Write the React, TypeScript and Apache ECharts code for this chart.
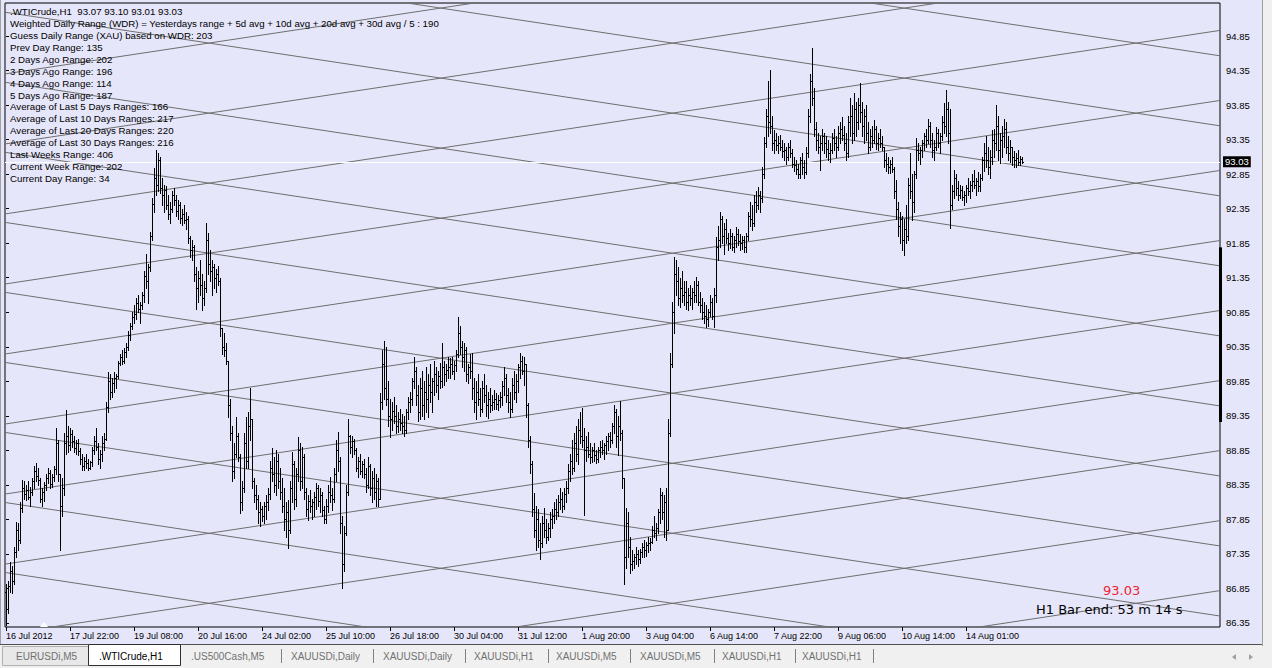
import React, { useEffect, useRef } from "react";
import * as echarts from "echarts";

// ---- hourly bars, [high, low, close]; open = previous close ----
const firstOpen = 86.8;
const week1: number[][] = [
  [86.92,86.32,86.55],[86.95,86.50,86.88],[87.23,86.80,87.10],[87.18,86.78,86.95],[87.45,86.92,87.38],[87.81,87.30,87.70],[87.80,87.40,87.55],[88.10,87.50,88.02],[88.42,87.95,88.30],[88.40,88.15,88.22],
  [88.35,88.13,88.28],[88.40,88.15,88.18],[88.32,88.05,88.25],[88.45,88.20,88.40],[88.62,88.30,88.55],[88.66,88.40,88.48],[88.60,88.35,88.42],[88.45,88.10,88.15],[88.30,88.05,88.25],[88.39,88.12,88.35],
  [88.50,88.28,88.45],[88.59,88.38,88.52],[88.56,88.30,88.36],[88.50,88.32,88.47],[88.62,88.40,88.58],[89.17,88.50,88.95],[89.00,88.40,88.50],[88.39,87.40,88.05],[88.45,87.90,88.30],[89.10,88.20,88.95],
  [89.43,88.80,89.05],[89.20,88.82,88.92],[89.17,88.85,89.08],[89.15,88.90,88.98],[89.05,88.82,88.88],[89.00,88.80,88.95],[89.02,88.78,88.84],[88.88,88.65,88.72],[88.80,88.56,88.62],[88.75,88.56,88.70],
  [88.80,88.60,88.66],[88.72,88.56,88.60],[88.70,88.58,88.68],[88.90,88.62,88.85],[89.05,88.80,88.98],[89.17,88.85,88.90],[88.95,88.65,88.72],[88.85,88.60,88.80],[89.05,88.70,88.95],[89.10,88.85,89.02],
  [89.55,89.00,89.48],[89.98,89.40,89.85],[89.95,89.60,89.70],[89.90,89.62,89.82],[89.98,89.70,89.90],[89.96,89.75,89.92],[90.15,89.90,90.12],[90.25,90.08,90.20],[90.30,90.10,90.15],[90.33,90.12,90.28],
  [90.40,90.20,90.35],[90.58,90.30,90.52],[90.70,90.45,90.65],[90.85,90.60,90.78],[90.95,90.70,90.82],[91.05,90.75,90.98],[91.10,90.85,90.90],[91.00,90.70,90.95],[91.15,90.90,91.10],[91.45,91.00,91.38],
  [91.70,91.20,91.30],[91.55,90.99,91.50],[92.01,91.45,91.95],[92.50,91.90,92.42],[92.94,92.30,92.80],[93.20,92.55,92.70],[93.15,92.60,93.05],[93.10,92.58,92.65],[92.80,92.40,92.55],[92.69,92.30,92.62],
  [92.68,92.35,92.40],[92.55,92.20,92.28],[92.45,92.15,92.35],[92.60,92.30,92.55],[92.65,92.40,92.48],[92.55,92.25,92.32],[92.47,92.20,92.40],[92.45,92.15,92.22],[92.35,92.11,92.28],[92.40,92.15,92.18],
  [92.30,92.05,92.20],[92.25,91.85,91.92],[91.95,91.65,91.75],[91.89,91.60,91.80],[91.82,91.30,91.40],[91.50,90.90,91.20],[91.45,91.00,91.35],[91.60,91.10,91.25],[91.40,90.88,91.05],[91.30,90.95,91.20],
  [92.14,91.15,91.90],[92.00,91.40,91.55],[91.75,91.30,91.45],[91.60,91.10,91.50]
];
const week2: number[][] = [
  [91.55,91.20,91.35],[91.48,91.15,91.40],[91.52,91.25,91.30],[91.35,90.50,90.62],[90.62,90.25,90.35],[90.55,90.22,90.30],[90.40,90.10,90.15],[90.15,89.33,89.50],[89.60,89.00,89.10],[89.20,88.40,88.55],
  [88.95,88.45,88.80],[89.33,88.75,89.05],[89.10,88.70,88.75],[88.80,87.94,88.10],[88.40,87.98,88.30],[89.10,88.25,88.95],[89.33,88.60,88.70],[89.40,88.60,89.20],[89.75,89.00,89.30],[89.30,88.30,88.40],
  [88.45,88.10,88.20],[88.35,88.00,88.15],[88.20,87.80,87.95],[88.10,87.76,88.00],[88.05,87.82,87.90],[88.10,87.80,88.05],[88.20,87.85,88.10],[88.30,87.98,88.22],[88.70,88.15,88.60],[88.89,88.40,88.50],
  [88.75,88.25,88.35],[88.85,88.20,88.70],[88.80,88.30,88.40],[88.60,88.15,88.25],[88.45,87.95,88.05],[88.30,87.70,87.85],[88.10,87.60,87.95],[88.13,87.43,87.70],[88.40,87.65,88.30],[88.82,88.10,88.65],
  [88.70,88.00,88.15],[88.60,88.05,88.50],[89.04,88.40,88.85],[88.95,88.27,88.40],[88.90,88.30,88.75],[88.80,88.15,88.25],[88.31,87.90,88.00],[88.20,87.84,88.12],[88.28,87.95,88.05],[88.15,87.85,88.10],
  [88.25,87.90,88.18],[88.37,88.00,88.30],[88.35,88.05,88.12],[88.30,87.95,88.20],[88.25,87.90,87.98],[88.05,87.79,87.85],[88.15,87.80,88.05],[88.35,87.95,88.25],[88.46,88.10,88.20],[88.30,87.98,88.15],
  [88.60,88.10,88.50],[89.00,88.40,88.85],[89.11,88.55,88.70],[88.75,87.65,87.80],[87.90,86.86,87.20],[87.75,87.10,87.65],[88.35,87.62,88.25],[89.31,88.20,89.05],[89.07,88.81,88.90],[89.05,88.75,88.98],
  [89.02,88.80,88.85],[88.89,88.55,88.60],[88.75,88.46,88.70],[88.80,88.50,88.55],[88.70,88.46,88.65],[88.72,88.45,88.50],[88.60,88.25,88.35],[88.75,88.30,88.62],[88.65,88.20,88.30],[88.55,88.10,88.45],
  [88.60,88.15,88.25],[88.50,88.05,88.40],[88.45,88.05,88.15],[89.68,88.15,89.55],[90.30,89.45,90.10],[90.44,89.60,89.75],[90.35,89.50,89.60],[89.86,89.20,89.35],[89.60,89.04,89.30],[89.55,89.15,89.42],
  [89.62,89.25,89.35],[89.50,89.10,89.20],[89.40,89.12,89.30],[89.45,89.15,89.25],[89.38,89.10,89.20],[89.35,89.05,89.15],[89.45,89.10,89.40],[89.62,89.30,89.55],[89.70,89.40,89.60],[89.90,89.50,89.85],
  [90.20,89.75,90.00],[90.05,89.50,89.65],[89.80,89.28,89.40],[89.90,89.30,89.75],[90.00,89.35,89.50],[89.85,89.30,89.70],[90.05,89.40,89.60],[89.95,89.33,89.80],[90.10,89.55,89.70],[89.90,89.40,89.85],
  [90.15,89.65,89.95],[90.05,89.70,89.80],[90.00,89.60,89.92],[90.12,89.75,89.85],[90.41,89.76,90.05],[90.15,89.80,89.95],[90.10,89.86,90.02],[90.20,89.90,90.05]
];
const week3: number[][] = [
  [90.18,89.90,90.10],[90.20,89.95,90.00],[90.15,89.88,90.08],[90.30,90.00,90.25],[90.78,90.20,90.55],[90.65,90.25,90.35],[90.44,90.05,90.20],[90.40,90.00,90.30],[90.35,89.85,89.95],[90.10,89.82,90.05],
  [90.25,89.90,90.00],[90.26,89.60,89.75],[89.90,89.40,89.55],[89.85,89.31,89.70],[89.95,89.50,89.60],[89.75,89.35,89.45],[89.85,89.40,89.75],[89.95,89.55,89.65],[89.80,89.35,89.50],[89.70,89.32,89.60],
  [89.75,89.40,89.50],[89.65,89.43,89.55],[89.72,89.45,89.60],[89.68,89.45,89.52],[89.65,89.43,89.58],[89.70,89.48,89.62],[89.85,89.50,89.78],[90.05,89.65,89.90],[89.95,89.55,89.65],[89.75,89.40,89.55],
  [89.70,89.33,89.45],[89.90,89.40,89.80],[90.00,89.60,89.70],[89.95,89.55,89.85],[90.10,89.70,90.05],[90.26,89.90,90.15],[90.22,89.95,90.00],[90.20,89.80,90.10],[90.05,89.33,89.50],[89.53,88.90,89.00],
  [89.05,88.52,88.65],[88.70,87.90,88.00],[88.23,87.60,87.70],[88.05,87.40,87.85],[88.00,87.45,87.55],[87.80,87.28,87.50],[87.90,87.45,87.80],[88.02,87.60,87.70],[87.85,87.50,87.60],[87.80,87.55,87.72],
  [87.95,87.60,87.85],[88.00,87.73,87.90],[88.10,87.80,88.00],[88.15,87.85,87.95],[88.20,87.90,88.10],[88.31,88.00,88.15],[88.25,87.95,88.05],[88.30,88.00,88.22],[88.40,88.10,88.30],[88.65,88.23,88.55],
  [88.80,88.40,88.70],[89.00,88.50,88.60],[89.10,88.55,88.95],[89.20,88.70,88.80],[89.30,88.65,89.15],[89.40,88.95,89.05],[89.46,88.90,89.00],[89.18,87.91,88.85],[89.05,88.70,88.90],[89.11,88.75,88.80],
  [88.95,88.66,88.75],[88.90,88.68,88.85],[88.95,88.70,88.78],[88.85,88.66,88.72],[88.90,88.68,88.85],[88.98,88.75,88.90],[89.00,88.80,88.85],[88.95,88.72,88.92],[89.05,88.80,88.98],[89.10,88.85,89.05],
  [89.11,88.90,89.00],[89.25,88.95,89.20],[89.50,89.10,89.40],[89.45,88.90,89.05],[89.35,88.78,89.20],[89.57,89.00,89.10],[89.15,88.30,88.45],[88.44,86.92,87.30],[88.02,87.15,87.80],[87.95,87.30,87.45],
  [87.59,87.07,87.20],[87.40,87.11,87.25],[87.35,87.15,87.30],[87.45,87.20,87.35],[87.40,87.18,87.28],[87.42,87.22,87.38],[87.50,87.30,87.45],[87.55,87.30,87.40],[87.52,87.32,87.48],[87.59,87.38,87.50],
  [87.58,87.40,87.52],[87.75,87.50,87.70],[87.90,87.60,87.65],[87.80,87.55,87.72],[88.00,87.65,87.95],[88.31,87.80,88.20],[88.25,87.85,87.95],[88.20,87.60,88.10],[88.30,87.55,87.70],[89.30,87.70,89.10],
  [90.26,89.05,90.10],[91.00,90.05,90.85],[91.65,90.55,91.40],[91.60,91.10,91.30],[91.50,90.95,91.05],[91.35,90.92,91.20],[91.45,91.00,91.10],[91.30,90.95,91.15]
];
const week4: number[][] = [
  [91.30,90.90,91.00],[91.20,90.88,91.10],[91.25,90.95,91.05],[91.20,90.90,91.15],[91.30,91.00,91.10],[91.36,91.00,91.25],[91.30,90.95,91.00],[91.15,90.85,90.95],[91.05,90.75,90.85],[91.00,90.70,90.80],
  [90.95,90.63,90.75],[90.90,90.65,90.85],[91.10,90.80,91.00],[91.05,90.75,90.80],[91.20,90.63,91.10],[91.94,91.00,91.80],[92.10,91.60,91.90],[92.30,91.80,92.20],[92.25,91.85,91.95],[92.15,91.70,92.05],
  [92.20,91.85,91.92],[92.00,91.75,91.85],[92.05,91.78,91.95],[92.00,91.75,91.80],[91.95,91.72,91.90],[92.08,91.80,91.98],[92.05,91.82,91.88],[91.98,91.75,91.85],[91.95,91.76,91.90],[91.96,91.72,91.80],
  [92.00,91.72,91.95],[92.30,91.90,92.25],[92.45,92.10,92.20],[92.40,92.04,92.15],[92.55,92.10,92.45],[92.60,92.30,92.40],[92.66,92.35,92.55],[92.60,92.30,92.50],[92.95,92.45,92.85],[93.39,92.80,93.30],
  [93.80,93.25,93.70],[94.20,93.40,93.60],[94.36,93.45,93.55],[93.70,93.20,93.30],[93.49,93.15,93.35],[93.45,93.20,93.28],[93.40,93.15,93.30],[93.42,93.20,93.25],[93.35,93.10,93.18],[93.30,93.05,93.20],
  [93.25,93.00,93.10],[93.30,93.05,93.25],[93.35,93.10,93.15],[93.22,92.95,93.00],[93.10,92.90,92.98],[93.05,92.85,92.92],[93.00,92.79,92.85],[93.10,92.80,93.05],[93.15,92.85,92.95],[93.05,92.79,92.88],
  [93.24,92.85,93.15],[93.80,93.10,93.70],[94.30,93.60,94.20],[94.68,93.85,93.95],[94.10,93.40,93.50],[93.60,93.20,93.35],[93.45,93.15,93.25],[93.40,92.91,93.30],[93.50,93.20,93.40],[93.45,93.15,93.30],
  [93.40,93.10,93.22],[93.35,93.05,93.15],[93.30,93.02,93.20],[93.45,93.15,93.38],[93.50,93.20,93.30],[93.40,93.10,93.25],[93.55,93.20,93.45],[93.60,93.30,93.50],[93.68,93.35,93.42],[93.55,93.20,93.30],
  [93.45,93.05,93.15],[93.70,93.10,93.60],[93.95,93.40,93.70],[93.85,93.30,93.45],[94.02,93.35,93.80],[93.90,93.40,93.60],[93.95,93.50,93.85],[94.17,93.60,93.75],[93.90,93.40,93.55],[93.80,93.30,93.70],
  [93.85,93.35,93.45],[93.60,93.15,93.25],[93.50,93.20,93.40],[93.55,93.25,93.35],[93.63,93.30,93.50],[93.55,93.22,93.30],[93.45,93.20,93.38],[93.50,93.25,93.30],[93.40,93.20,93.25],[93.24,92.95,93.05],
  [93.15,92.90,93.00],[93.10,92.86,92.95],[93.05,92.86,93.00],[93.10,92.88,92.92],[92.95,92.50,92.60],[92.76,92.20,92.35],[92.45,91.95,92.10],[92.30,91.85,92.20],[92.25,91.75,91.90],[92.20,91.68,92.05],
  [92.40,91.85,91.95],[92.80,91.90,92.70],[93.15,92.50,92.60],[92.85,92.18,92.45],[92.90,92.30,92.85],[93.37,92.80,93.20],[93.30,93.05,93.15],[93.25,93.00,93.20]
];
const week5: number[][] = [
  [93.35,93.10,93.30],[93.45,93.20,93.40],[93.50,93.25,93.35],[93.65,93.30,93.55],[93.60,93.25,93.35],[93.45,93.10,93.20],[93.35,93.05,93.25],[93.53,93.20,93.45],[93.50,93.25,93.30],[93.45,93.15,93.40],
  [93.70,93.35,93.60],[93.88,93.45,93.55],[94.07,93.40,93.80],[93.90,93.30,93.45],[93.80,92.07,92.40],[92.70,92.35,92.60],[92.91,92.50,92.80],[92.85,92.55,92.65],[92.75,92.47,92.55],[92.70,92.50,92.62],
  [92.68,92.48,92.52],[92.60,92.40,92.55],[92.70,92.45,92.65],[92.80,92.55,92.60],[92.75,92.50,92.70],[92.85,92.60,92.75],[92.91,92.65,92.70],[92.80,92.55,92.75],[92.88,92.60,92.68],[92.85,92.60,92.80],
  [93.10,92.76,93.05],[93.30,92.90,93.15],[93.40,92.95,93.05],[93.25,92.85,92.95],[93.20,92.80,93.10],[93.49,93.00,93.35],[93.50,93.10,93.30],[93.85,93.20,93.55],[93.70,93.05,93.20],[93.45,93.01,93.35],
  [93.55,93.10,93.40],[93.65,93.25,93.50],[93.60,93.15,93.25],[93.40,93.05,93.15],[93.35,93.02,93.25],[93.20,92.98,93.10],[93.18,92.95,93.05],[93.15,92.96,93.08],[93.20,92.98,93.02],[93.12,92.98,93.07],
  [93.10,93.01,93.03]
];

// ---- axes ----
const timeLabels = [
  "16 Jul 2012", "17 Jul 22:00", "19 Jul 08:00", "20 Jul 16:00", "24 Jul 02:00", "25 Jul 10:00",
  "26 Jul 18:00", "30 Jul 04:00", "31 Jul 12:00", "1 Aug 20:00", "3 Aug 04:00", "6 Aug 14:00",
  "7 Aug 22:00", "9 Aug 06:00", "10 Aug 14:00", "14 Aug 01:00"
];
const barsPerLabel = 32;
const priceTicks = [86.35, 86.85, 87.35, 87.85, 88.35, 88.85, 89.35, 89.85, 90.35, 90.85, 91.35, 91.85, 92.35, 92.85, 93.35, 93.85, 94.35, 94.85];
const priceMin = 86.29;
const priceMax = 95.33;
const indexMin = -0.5;
const indexMax = 607;

// ---- drawn objects ----
const lastPrice = 93.03;
const rangeBar = [91.79, 89.26];
const gannUp = [[84.158,86.817],[85.172,87.831],[86.187,88.846],[87.201,89.860],[88.216,90.875],[89.230,91.889],[90.245,92.904],[91.259,93.918],[92.274,94.933],[93.288,95.947],[94.303,96.962],[95.317,97.976]];
const gannDown = [[87.080,84.420],[88.094,85.435],[89.109,86.449],[90.123,87.464],[91.138,88.478],[92.152,89.493],[93.167,90.507],[94.181,91.522],[95.196,92.536],[96.210,93.551],[97.225,94.565]];

const infoLines = [
  ".WTICrude,H1  93.07 93.10 93.01 93.03",
  "Weighted Daily Range (WDR) = Yesterdays range + 5d avg + 10d avg + 20d avg + 30d avg / 5 : 190",
  "Guess Daily Range (XAU) based on WDR: 203",
  "Prev Day Range: 135",
  "2 Days Ago Range: 202",
  "3 Days Ago Range: 196",
  "4 Days Ago Range: 114",
  "5 Days Ago Range: 187",
  "Average of Last 5 Days Ranges: 166",
  "Average of Last 10 Days Ranges: 217",
  "Average of Last 20 Days Ranges: 220",
  "Average of Last 30 Days Ranges: 216",
  "Last Weeks Range: 406",
  "Current Week Range: 202",
  "Current Day Range: 34"
];
const bidText = "93.03";
const barEndText = "H1 Bar end: 53 m 14 s";
const tabs = ["EURUSDi,M5", ".WTICrude,H1", ".US500Cash,M5", "XAUUSDi,Daily", "XAUUSDi,Daily", "XAUUSDi,H1", "XAUUSDi,M5", "XAUUSDi,M5", "XAUUSDi,H1", "XAUUSDi,H1"];
const activeTab = 1;
const tabX = [16, 99, 191, 291, 383, 474, 556, 640, 722, 802];
const sepX = [281, 373, 465, 548, 630, 714, 795, 873];

const FONT = "'Liberation Sans', Arial, sans-serif";
const VFONT = "'DejaVu Sans', Verdana, sans-serif";
const BG = "#E6E6FA";

function buildOhlc() {
  const all = [...week1, ...week2, ...week3, ...week4, ...week5];
  const out: number[][] = [];
  let prev = firstOpen;
  all.forEach(([h, l, c], i) => {
    const o = prev;
    out.push([i, o, Math.max(h, o, c), Math.min(l, o, c), c]);
    prev = c;
  });
  return out;
}

export default function App() {
  const ref = useRef<HTMLDivElement>(null);
  useEffect(() => {
    document.body.style.margin = "0";
    const chart = echarts.init(ref.current!, null, { renderer: "svg", width: 1272, height: 668 });
    const ohlc = buildOhlc();
    const labelIdx = timeLabels.map((_, k) => k * barsPerLabel);

    const gannSeries = [...gannUp, ...gannDown].map(([a, b]) => ({
      type: "line",
      data: [[indexMin, a], [indexMax, b]],
      symbol: "none",
      showSymbol: false,
      silent: true,
      clip: true,
      z: 1,
      lineStyle: { color: "#6e6e6e", width: 1 },
    }));

    const stroke = { stroke: "#000", lineWidth: 1 };
    const barSeries = {
      type: "custom",
      z: 5,
      clip: true,
      silent: true,
      encode: { x: 0, y: [1, 2, 3, 4] },
      data: ohlc,
      renderItem: (params: any, api: any) => {
        const i = api.value(0);
        const ph = api.coord([i, api.value(2)]);
        const pl = api.coord([i, api.value(3)]);
        const po = api.coord([i, api.value(1)]);
        const pc = api.coord([i, api.value(4)]);
        const x = Math.round(ph[0]) + 0.5;
        const yo = Math.round(po[1]) + 0.5;
        const yc = Math.round(pc[1]) + 0.5;
        return {
          type: "group",
          children: [
            { type: "line", shape: { x1: x, y1: Math.round(ph[1]), x2: x, y2: Math.round(pl[1]) + 1 }, style: stroke },
            { type: "line", shape: { x1: x - 1.5, y1: yo, x2: x, y2: yo }, style: stroke },
            { type: "line", shape: { x1: x, y1: yc, x2: x + 1.5, y2: yc }, style: stroke },
          ],
        };
      },
    };

    const bidSeries = {
      type: "line",
      data: [[indexMin, lastPrice]],
      symbol: "none",
      silent: true,
      z: 3,
      lineStyle: { width: 0 },
      markLine: {
        silent: true,
        symbol: ["none", "none"],
        lineStyle: { color: "#ffffff", width: 1, type: "solid" },
        label: {
          show: true, position: "end", formatter: bidText, color: "#fff", backgroundColor: "#000",
          padding: [1, 2, 0, 2], distance: 3, fontFamily: FONT, fontSize: 9.5,
        },
        data: [{ yAxis: lastPrice }],
      },
    };

    const rangeSeries = {
      type: "line",
      data: [[indexMax, rangeBar[0]]],
      symbol: "none",
      silent: true,
      z: 6,
      lineStyle: { width: 0 },
      markLine: {
        silent: true,
        symbol: ["none", "none"],
        lineStyle: { color: "#000", width: 3, type: "solid" },
        label: { show: false },
        data: [[{ coord: [indexMax, rangeBar[0]] }, { coord: [indexMax, rangeBar[1]] }]],
      },
    };

    const graphic: any[] = [];
    infoLines.forEach((t, k) => {
      graphic.push({
        type: "text", z: 100, silent: true,
        style: { text: t, x: 10, y: 11.7 + 11.9 * k, fill: "#000", font: `9.7px ${FONT}`, align: "left", verticalAlign: "middle" },
      });
    });
    graphic.push({ type: "polygon", z: 100, silent: true, shape: { points: [[40, 627], [44, 622], [48, 627]] }, style: { fill: "#fff" } });
    graphic.push({ type: "text", z: 100, silent: true, style: { text: bidText, x: 1103, y: 590, fill: "#ee2233", font: `13px ${VFONT}`, align: "left", verticalAlign: "middle" } });
    graphic.push({ type: "text", z: 100, silent: true, style: { text: barEndText, x: 1036, y: 609, fill: "#000", font: `13px ${VFONT}`, align: "left", verticalAlign: "middle" } });
    // right strip
    graphic.push({ type: "rect", z: 90, silent: true, shape: { x: 1262, y: 0, width: 10, height: 668 }, style: { fill: "#F0F0F0" } });
    graphic.push({ type: "line", z: 91, silent: true, shape: { x1: 1262.5, y1: 0, x2: 1262.5, y2: 646 }, style: { stroke: "#a0a0a0", lineWidth: 1 } });
    // window left edge
    graphic.push({ type: "line", z: 91, silent: true, shape: { x1: 0.5, y1: 0, x2: 0.5, y2: 645 }, style: { stroke: "#a0a0a0", lineWidth: 1 } });
    // tab bar
    graphic.push({ type: "rect", z: 90, silent: true, shape: { x: 0, y: 645, width: 1272, height: 23 }, style: { fill: "#F0F0F0" } });
    graphic.push({ type: "line", z: 91, silent: true, shape: { x1: 0, y1: 644.5, x2: 1262, y2: 644.5 }, style: { stroke: "#505050", lineWidth: 1 } });
    graphic.push({ type: "rect", z: 91, silent: true, shape: { x: 2.5, y: 646.5, width: 86, height: 19 }, style: { fill: "#E8E8E8", stroke: "#b0b0b0", lineWidth: 1 } });
    graphic.push({ type: "rect", z: 92, silent: true, shape: { x: 88.5, y: 644.5, width: 92, height: 21 }, style: { fill: "#ffffff", stroke: "#303030", lineWidth: 1 } });
    tabs.forEach((t, k) => {
      graphic.push({
        type: "text", z: 95, silent: true,
        style: { text: t, x: tabX[k], y: 656, fill: k === activeTab ? "#000" : "#707070", font: `10px ${FONT}`, align: "left", verticalAlign: "middle" },
      });
    });
    sepX.forEach((x) => {
      graphic.push({ type: "line", z: 95, silent: true, shape: { x1: x + 0.5, y1: 649, x2: x + 0.5, y2: 663 }, style: { stroke: "#808080", lineWidth: 1 } });
    });
    graphic.push({ type: "polygon", z: 95, silent: true, shape: { points: [[1236, 654], [1236, 660], [1232, 657]] }, style: { fill: "#a0a0a0" } });
    graphic.push({ type: "polygon", z: 95, silent: true, shape: { points: [[1249, 654], [1249, 660], [1253, 657]] }, style: { fill: "#a0a0a0" } });

    chart.setOption({
      animation: false,
      backgroundColor: BG,
      grid: { left: 5, top: 3, width: 1215, height: 624, show: true, borderColor: "#000", borderWidth: 1, backgroundColor: BG },
      xAxis: {
        type: "value", min: indexMin, max: indexMax,
        axisLine: { show: false }, splitLine: { show: false },
        axisTick: { show: true, customValues: labelIdx, length: 4, lineStyle: { color: "#000" } },
        axisLabel: {
          customValues: labelIdx,
          formatter: (v: number) => timeLabels[Math.round(v / barsPerLabel)] ?? "",
          align: "left", margin: 4, color: "#000", fontFamily: FONT, fontSize: 9,
        },
      },
      yAxis: {
        type: "value", position: "right", min: priceMin, max: priceMax,
        axisLine: { show: false }, splitLine: { show: false },
        axisTick: { show: true, customValues: priceTicks, length: 3, lineStyle: { color: "#000" } },
        axisLabel: { customValues: priceTicks, formatter: (v: number) => v.toFixed(2), margin: 6, color: "#000", fontFamily: FONT, fontSize: 9.5 },
      },
      series: [...gannSeries, bidSeries, rangeSeries, barSeries],
      graphic,
    } as any);
    return () => chart.dispose();
  }, []);
  return <div ref={ref} style={{ position: "absolute", left: 0, top: 0, width: 1272, height: 668 }} />;
}
